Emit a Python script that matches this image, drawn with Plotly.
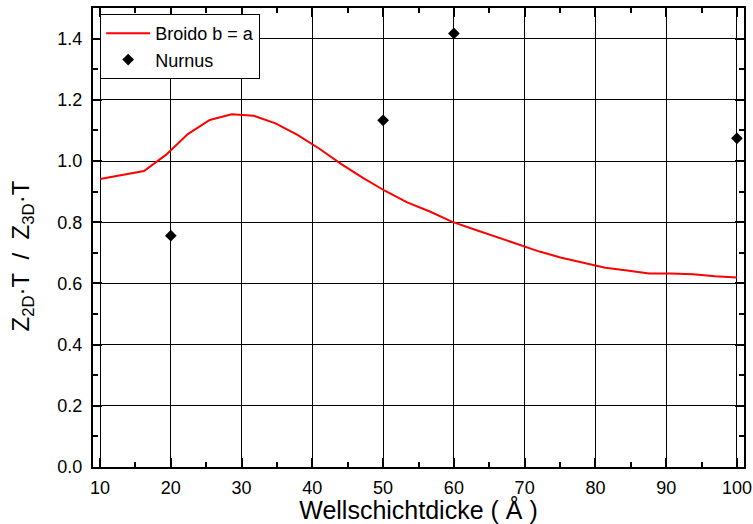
import plotly.graph_objects as go

broido_x = [10.0, 13.1, 16.2, 19.3, 22.4, 25.5, 28.6, 31.7, 34.8, 37.9,
            41.0, 44.1, 47.2, 50.3, 53.4, 56.6, 59.7, 62.8, 65.9, 69.0,
            72.1, 75.2, 78.3, 81.4, 84.5, 87.6, 90.7, 93.8, 96.9, 100.0]
broido_y = [0.941, 0.953, 0.967, 1.020, 1.088, 1.134, 1.153, 1.148, 1.123, 1.085,
            1.040, 0.990, 0.944, 0.902, 0.865, 0.835, 0.802, 0.777, 0.752, 0.728,
            0.704, 0.684, 0.667, 0.651, 0.642, 0.632, 0.632, 0.630, 0.623, 0.619]

nurnus_x = [20, 50, 60, 100]
nurnus_y = [0.756, 1.133, 1.417, 1.074]

x_ticks = [10, 20, 30, 40, 50, 60, 70, 80, 90, 100]
y_ticks = [0.0, 0.2, 0.4, 0.6, 0.8, 1.0, 1.2, 1.4]

FONT = "Liberation Sans, Arial, sans-serif"

fig = go.Figure()
fig.add_trace(go.Scatter(x=broido_x, y=broido_y, mode="lines",
                         name="Broido b = a",
                         line=dict(color="#ff0000", width=2)))
fig.add_trace(go.Scatter(x=nurnus_x, y=nurnus_y, mode="markers",
                         name="Nurnus",
                         marker=dict(symbol="diamond", size=9, color="black")))

axis_common = dict(
    showline=True, linecolor="black", linewidth=2, mirror="allticks",
    ticks="inside", ticklen=9, tickwidth=2, tickcolor="black",
    showgrid=True, gridcolor="black", gridwidth=1,
    zeroline=False, automargin=False,
    tickfont=dict(family=FONT, size=18, color="black"),
)

fig.update_xaxes(
    range=[9, 101], tickvals=x_ticks, ticktext=[str(v) for v in x_ticks],
    ticklabelstandoff=3,
    minor=dict(ticks="inside", ticklen=5, tickwidth=2, tickcolor="black",
               dtick=5, tick0=5, showgrid=False),
    title=dict(text="Wellschichtdicke ( Å )",
               font=dict(family=FONT, size=25, color="black"), standoff=3),
    **axis_common)
fig.update_yaxes(
    range=[0, 1.5], tickvals=y_ticks, ticktext=[f"{v:.1f}" for v in y_ticks],
    ticklabelstandoff=5,
    minor=dict(ticks="inside", ticklen=5, tickwidth=2, tickcolor="black",
               dtick=0.1, tick0=0, showgrid=False),
    **axis_common)

fig.add_annotation(
    text="Z<sub>2D</sub>·T&nbsp;&nbsp;/&nbsp;&nbsp;Z<sub>3D</sub>·T",
    xref="paper", yref="paper", x=(22 - 93) / 651, y=(467.5 - 257) / 459,
    xanchor="center", yanchor="middle", textangle=-90, showarrow=False,
    font=dict(family=FONT, size=24, color="black"))

fig.update_layout(
    width=753, height=524,
    margin=dict(l=93, r=9, t=8, b=57),
    paper_bgcolor="white", plot_bgcolor="white",
    font=dict(family=FONT, color="black"),
    showlegend=True,
    legend=dict(x=0.011, y=0.987, xanchor="left", yanchor="top",
                bgcolor="white", bordercolor="black", borderwidth=1,
                font=dict(family=FONT, size=18, color="black"),
                itemwidth=44, tracegroupgap=0),
)

fig.write_html("out.html")
